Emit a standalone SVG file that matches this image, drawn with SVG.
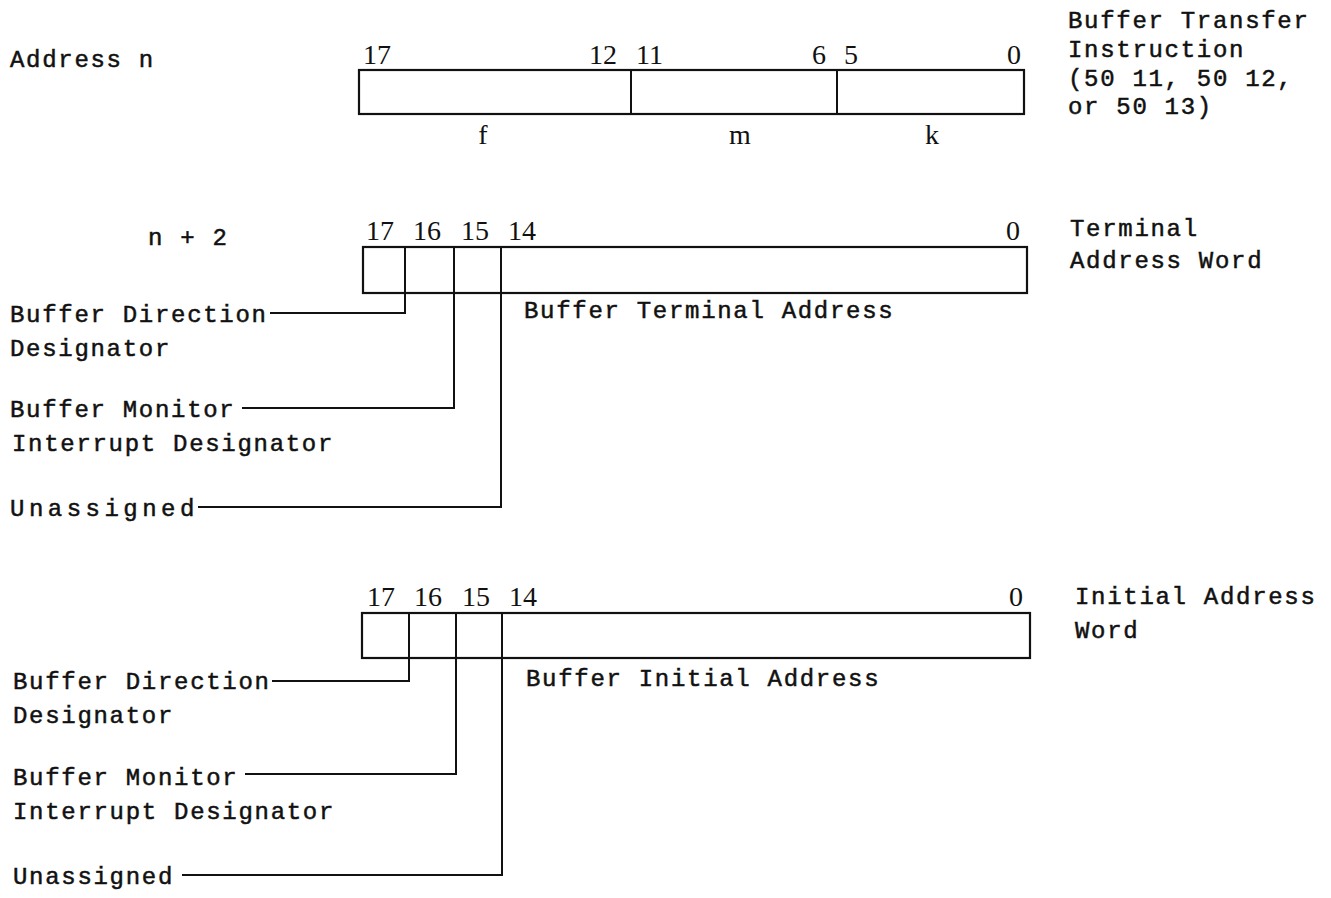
<svg xmlns="http://www.w3.org/2000/svg" width="1331" height="898" viewBox="0 0 1331 898">
<style>
.t{font-family:"Liberation Mono","DejaVu Sans Mono",monospace;font-size:24px;letter-spacing:1.7px;fill:#111;stroke:#111;stroke-width:0.5}
.d{font-family:"Liberation Serif","Times New Roman",serif;font-size:28px;fill:#111}
.b{fill:#fff;stroke:#111;stroke-width:2.2}
.l{fill:none;stroke:#111;stroke-width:2}
</style>
<rect width="1331" height="898" fill="#fff"/>
<g id="word1">
<text class="t" x="10" y="67">Address n</text>
<rect class="b" x="359" y="70" width="665" height="44"/>
<line class="l" x1="631" y1="70" x2="631" y2="114"/>
<line class="l" x1="837" y1="70" x2="837" y2="114"/>
<text class="d" x="363" y="64">17</text>
<text class="d" x="589" y="64">12</text>
<text class="d" x="636" y="64">11</text>
<text class="d" x="812" y="64">6</text>
<text class="d" x="844" y="64">5</text>
<text class="d" x="1007" y="64">0</text>
<text class="d" x="483" y="144" text-anchor="middle">f</text>
<text class="d" x="740" y="144" text-anchor="middle">m</text>
<text class="d" x="932" y="144" text-anchor="middle">k</text>
<text class="t" x="1068" y="28">Buffer Transfer</text>
<text class="t" x="1068" y="57">Instruction</text>
<text class="t" x="1068" y="86">(50 11, 50 12,</text>
<text class="t" x="1068" y="114">or 50 13)</text>
</g>
<g id="word2">
<text class="t" x="148" y="245">n + 2</text>
<rect class="b" x="363" y="247" width="664" height="46"/>
<line class="l" x1="405" y1="247" x2="405" y2="293"/>
<line class="l" x1="454" y1="247" x2="454" y2="293"/>
<line class="l" x1="501" y1="247" x2="501" y2="293"/>
<text class="d" x="366" y="240">17</text>
<text class="d" x="413" y="240">16</text>
<text class="d" x="461" y="240">15</text>
<text class="d" x="508" y="240">14</text>
<text class="d" x="1006" y="240">0</text>
<text class="t" x="524" y="318">Buffer Terminal Address</text>
<text class="t" x="1070" y="236">Terminal</text>
<text class="t" x="1070" y="268">Address Word</text>
<text class="t" x="10" y="322">Buffer Direction</text>
<text class="t" x="10" y="356">Designator</text>
<text class="t" x="10" y="417">Buffer Monitor</text>
<text class="t" x="12" y="451">Interrupt Designator</text>
<text class="t" x="10" y="516" textLength="186">Unassigned</text>
</g>
<g id="word3">
<rect class="b" x="362" y="613" width="668" height="45"/>
<line class="l" x1="409" y1="613" x2="409" y2="658"/>
<line class="l" x1="456" y1="613" x2="456" y2="658"/>
<line class="l" x1="502" y1="613" x2="502" y2="658"/>
<text class="d" x="367" y="606">17</text>
<text class="d" x="414" y="606">16</text>
<text class="d" x="462" y="606">15</text>
<text class="d" x="509" y="606">14</text>
<text class="d" x="1009" y="606">0</text>
<text class="t" x="526" y="686">Buffer Initial Address</text>
<text class="t" x="1075" y="604">Initial Address</text>
<text class="t" x="1075" y="638">Word</text>
<text class="t" x="13" y="689">Buffer Direction</text>
<text class="t" x="13" y="723">Designator</text>
<text class="t" x="13" y="785">Buffer Monitor</text>
<text class="t" x="13" y="819">Interrupt Designator</text>
<text class="t" x="13" y="884">Unassigned</text>
</g>
<g id="connectors">
<polyline class="l" points="405,293 405,313 270,313"/>
<polyline class="l" points="454,293 454,408 242,408"/>
<polyline class="l" points="501,293 501,507 198,507"/>
<polyline class="l" points="409,658 409,681 272,681"/>
<polyline class="l" points="456,658 456,774 245,774"/>
<polyline class="l" points="502,658 502,875 182,875"/>
</g>
</svg>
